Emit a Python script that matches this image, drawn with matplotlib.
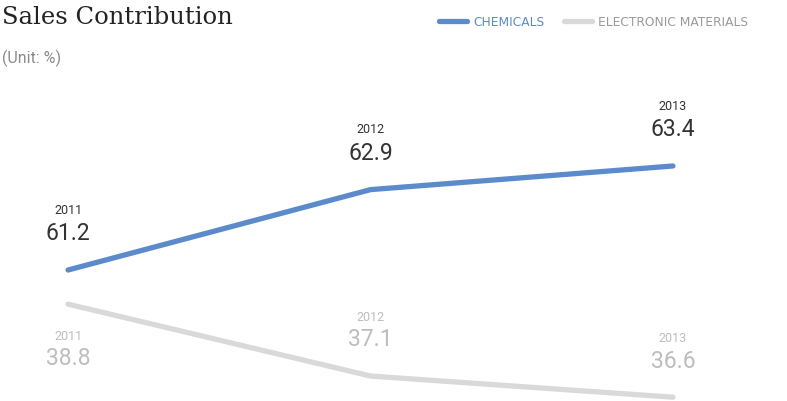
import matplotlib.pyplot as plt

# data
years = ["2011", "2012", "2013"]
chemicals = [61.2, 62.9, 63.4]
electronic = [38.8, 37.1, 36.6]

blue = "#5b8bcb"
grey = "#d9d9d9"

plt.rcParams["font.family"] = ["Roboto", "DejaVu Sans"]

fig = plt.figure(figsize=(7.87, 4.01), dpi=100)
ax = fig.add_axes([0, 0, 1, 1])
ax2 = ax.twinx()
x = range(len(years))

ax.plot(x, chemicals, color=blue, lw=3.8, solid_capstyle="round", label="CHEMICALS")
ax2.plot(x, electronic, color=grey, lw=3.8, solid_capstyle="round", label="ELECTRONIC MATERIALS")

# separate scales for the two series
ax.set_xlim(-0.225, 2.377)
ax.set_ylim(58.43, 66.91)
ax2.set_ylim(36.51, 45.99)
for a in (ax, ax2):
    a.axis("off")

# value labels
for i, (yr, v) in enumerate(zip(years, chemicals)):
    ax.annotate(yr, (i, v), xytext=(0, 43), textcoords="offset points",
                ha="center", va="center", fontsize=9, color="#333333")
    ax.annotate(f"{v}", (i, v), xytext=(0, 26), textcoords="offset points",
                ha="center", va="center", fontsize=16.5, color="#333333")

for i, (yr, v) in enumerate(zip(years, electronic)):
    if i == 0:
        off_yr, off_v = -23, -39
    else:
        off_yr, off_v = 42, 26
    ax2.annotate(yr, (i, v), xytext=(0, off_yr), textcoords="offset points",
                 ha="center", va="center", fontsize=9, color="#bdbdbd")
    ax2.annotate(f"{v}", (i, v), xytext=(0, off_v), textcoords="offset points",
                 ha="center", va="center", fontsize=16.5, color="#bdbdbd")

fig.text(2 / 787, 1 - 18 / 401, "Sales Contribution", fontsize=17.5,
         family="DejaVu Serif", color="#222222", va="center", ha="left")
fig.text(2 / 787, 1 - 58 / 401, "(Unit: %)", fontsize=11.5, color="#8a8a8a",
         va="center", ha="left")

h1, l1 = ax.get_legend_handles_labels()
h2, l2 = ax2.get_legend_handles_labels()
leg = fig.legend(h1 + h2, l1 + l2, loc="center left", bbox_to_anchor=(428 / 787, 1 - 22 / 401),
                 ncol=2, frameon=False, prop={"family": "DejaVu Sans", "size": 8.8},
                 handlelength=2.3, handletextpad=0.5, columnspacing=1.6)
for t, c in zip(leg.get_texts(), [blue, "#9a9a9a"]):
    t.set_color(c)

fig.savefig("out.png", dpi=100)
